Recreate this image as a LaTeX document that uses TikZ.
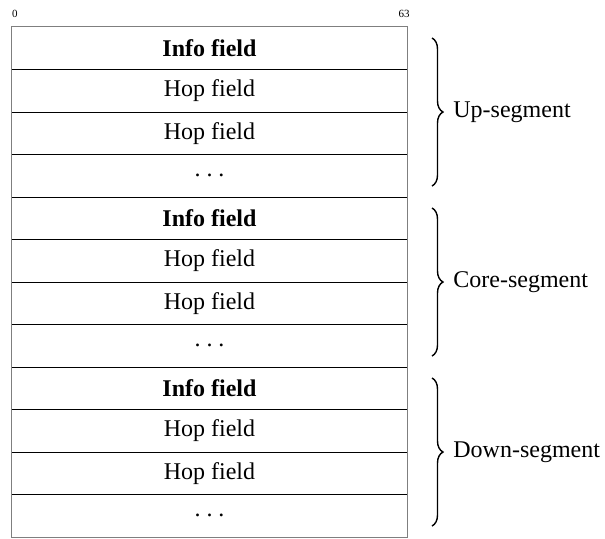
\documentclass[tikz,border=0pt]{standalone}
\usepackage{fontspec}
\setmainfont{Liberation Serif}
\usetikzlibrary{decorations.pathreplacing}
\definecolor{framegray}{HTML}{7F7F7F}
\newcommand{\spreaddots}{.\hspace{0.24em}.\hspace{0.24em}.}

\begin{document}
\begin{tikzpicture}[x=0.5pt,y=-0.5pt,
    fieldrow/.style={minimum width=197.5pt,minimum height=21.25pt,inner sep=0pt,
      font=\fontsize{12}{14}\selectfont},
    bitlabel/.style={inner sep=0pt,font=\fontsize{5.5}{6}\selectfont},
    segbrace/.style={decorate,decoration={brace,amplitude=5.5pt},line width=0.7pt},
    seglabel/.style={anchor=west,inner sep=0pt,font=\fontsize{12}{14}\selectfont}]
  % bbox matches the reference page
  \useasboundingbox (0,0) rectangle (605,538);

  % bit positions above the header
  \node[bitlabel] (bit0) at (15,14) {0};
  \node[bitlabel] (bit63) at (404,14) {63};

  % three segments of four rows each
  \foreach \s/\seg/\lbl in {0/up/Up-segment,1/core/Core-segment,2/down/Down-segment} {
    \foreach \r/\txt in {0/{\textbf{Info field}},1/{Hop field},2/{Hop field},3/{\spreaddots}} {
      \pgfmathsetmacro{\yc}{27+42.5*(4*\s+\r)+21.25}
      \node[fieldrow] (\seg\r) at (209.5,\yc) {\txt};
    }
    % brace + segment name
    \pgfmathsetmacro{\ytop}{27+170*\s+11}
    \pgfmathsetmacro{\ybot}{27+170*(\s+1)-11}
    \coordinate (\seg top) at (432,\ytop);
    \coordinate (\seg bot) at (432,\ybot);
    \draw[segbrace] (\seg top) -- (\seg bot);
    \node[seglabel] (\seg name) at (453,{(\ytop+\ybot)/2}) {\lbl};
  }

  % row dividers
  \foreach \seg in {up,core} {
    \foreach \r in {0,1,2,3} {
      \draw[black,line width=0.5pt] (\seg\r.south west) -- (\seg\r.south east);
    }
  }
  \foreach \r in {0,1,2} {
    \draw[black,line width=0.5pt] (down\r.south west) -- (down\r.south east);
  }

  % outer frame
  \draw[framegray,line width=0.6pt] (up0.north west) rectangle (down3.south east);
\end{tikzpicture}
\end{document}
